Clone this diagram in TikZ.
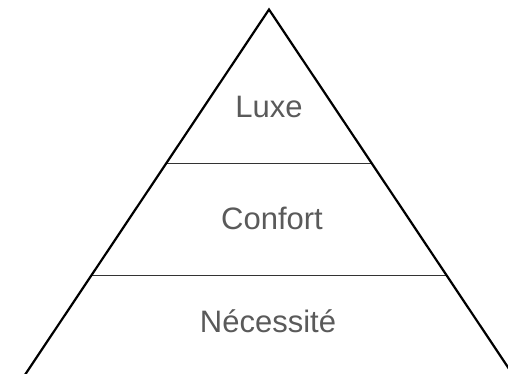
\documentclass[tikz,border=0pt]{standalone}
\usepackage{fontspec}
\setmainfont{Liberation Sans}
\definecolor{txtgray}{HTML}{5A5A5A}
\definecolor{linegray}{HTML}{333333}
\tikzset{
  edge/.style={draw=black, line width=2.2pt, line join=miter},
  divider/.style={draw=linegray, line width=1.3pt},
  label/.style={anchor=base, text=txtgray, font=\fontsize{31}{36}\selectfont, inner sep=0pt}
}
\begin{document}
\begin{tikzpicture}[x=1pt,y=1pt]
\useasboundingbox (0,0) rectangle (508,373);
\clip (0,0) rectangle (508,373);
\coordinate (apex) at (269,363.5);
\coordinate (bl) at (19.5,-10);
\coordinate (br) at (518.5,-10);
\coordinate (u1) at (166.3,209.7);
\coordinate (u2) at (371.7,209.7);
\coordinate (l1) at (91.2,97.3);
\coordinate (l2) at (446.8,97.3);
\draw[divider] (u1) -- (u2);
\draw[divider] (l1) -- (l2);
\draw[edge] (bl) -- (apex) -- (br);
\node[label] (luxe) at (269,255.3) {Luxe};
\node[label] (confort) at (272,144) {Confort};
\node[label] (necessite) at (268,41) {Nécessité};
\end{tikzpicture}
\end{document}
